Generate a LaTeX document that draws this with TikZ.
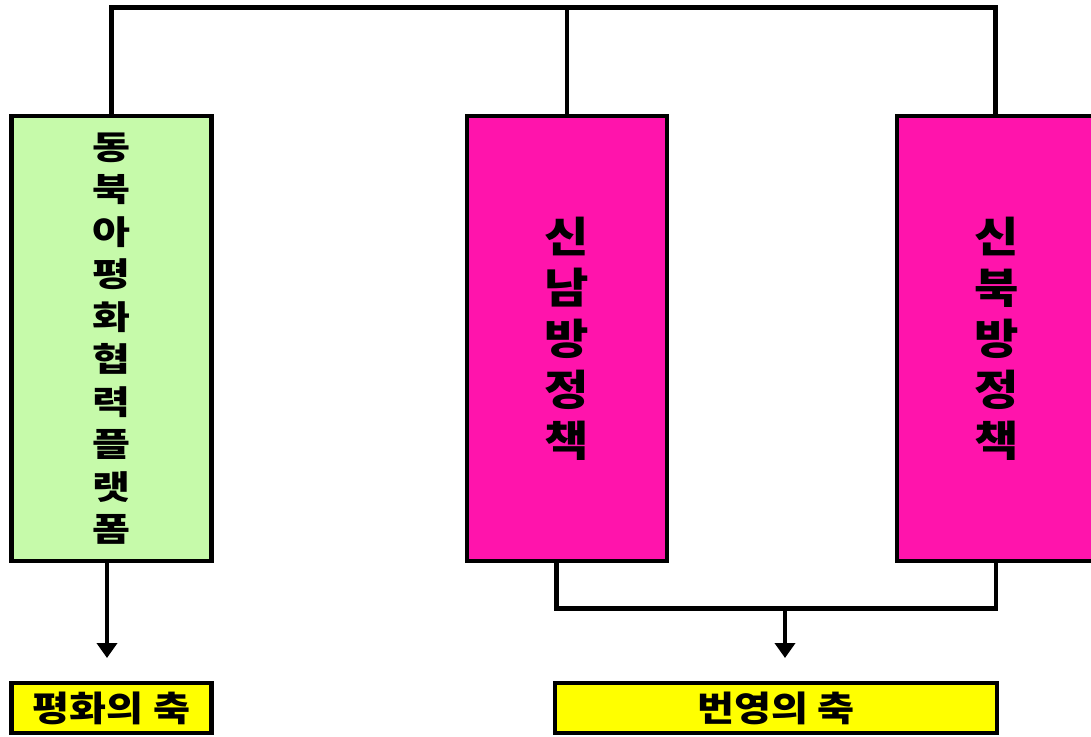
\documentclass[tikz,border=0pt]{standalone}
\usepackage{fontspec}
\newfontfamily\kr[FakeStretch=1.15]{Noto Sans CJK KR}
\newfontfamily\krw[FakeStretch=1.25]{Noto Sans CJK KR}
\usetikzlibrary{arrows.meta}
\definecolor{gfill}{HTML}{C6FAAA}
\definecolor{pfill}{HTML}{FF14AC}
\definecolor{yfill}{HTML}{FFFF00}
\tikzset{
  ln/.style={line width=4.5pt, line join=miter},
  boxbase/.style={draw=black, line width=4.5pt, inner sep=0pt, align=center, text=black},
  gbox/.style={boxbase, fill=gfill, minimum width=200pt, minimum height=445pt,
     font=\krw\bfseries\fontsize{33}{42.5}\selectfont},
  pbox/.style={boxbase, fill=pfill, minimum width=200pt, minimum height=445pt,
     font=\kr\bfseries\fontsize{42}{51}\selectfont},
  ybox/.style={boxbase, fill=yfill, minimum height=50pt,
     font=\kr\bfseries\fontsize{35}{40}\selectfont},
  arr/.style={ln, -{Triangle[width=20pt,length=15pt]}}
}
\begin{document}
\begin{tikzpicture}[x=1pt,y=-1pt]
\useasboundingbox (0,0) rectangle (1091,736);
\clip (0,0) rectangle (1091,736);
\node[gbox] (g) at (111.5,338.5) {동\\북\\아\\평\\화\\협\\력\\플\\랫\\폼};
\node[pbox] (m) at (567,338.5) {신\\남\\방\\정\\책};
\node[pbox] (r) at (997,338.5) {신\\북\\방\\정\\책};
\node[ybox, minimum width=200pt] (y1) at (111.5,708) {평화의 축};
\node[ybox, minimum width=442pt] (y2) at (776,708) {번영의 축};
\coordinate (top) at (0,7.5);
\coordinate (bot) at (0,608.5);
\coordinate (t1) at (107,658);
\coordinate (t2) at (785,658);
\coordinate (b2) at (785,608.5);
\draw[ln] (g.north) -- (g.north |- top) -- ([xshift=-1.5pt]r.north |- top) -- ([xshift=-1.5pt]r.north);
\draw[ln] (m.north) -- (m.north |- top);
\draw[ln] ([xshift=-10.5pt]m.south) -- ([xshift=-10.5pt]m.south |- bot) -- ([xshift=-1pt]r.south |- bot) -- ([xshift=-1pt]r.south);
\draw[arr] ([xshift=-4.5pt]g.south) -- (t1);
\draw[arr] (b2) -- (t2);
\end{tikzpicture}
\end{document}
